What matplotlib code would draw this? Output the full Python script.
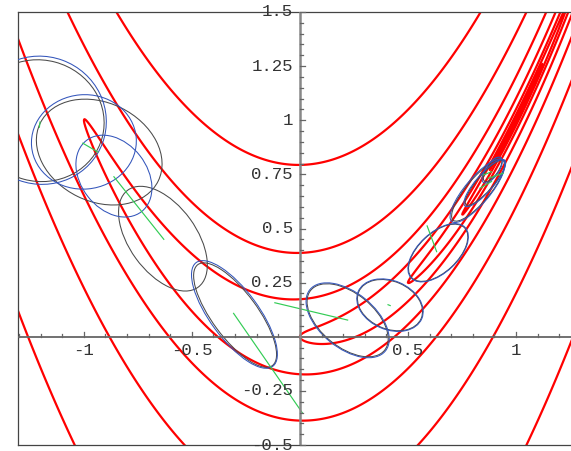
import numpy as np
import matplotlib
matplotlib.use("Agg")
import matplotlib.pyplot as plt
from matplotlib.patches import Ellipse

# contour levels of the Rosenbrock valley (powers of 4)
levels = [4.0 ** k for k in range(-5, 5)]

# ellipses: centre x, centre y, semi-axis a, semi-axis b, angle (deg)
blue_cx = [-1.200, -1.000, -0.861, -0.303, 0.221, 0.417, 0.640, 0.822, 0.856, 0.890]
blue_cy = [1.000, 0.900, 0.742, 0.103, 0.076, 0.146, 0.388, 0.674, 0.710, 0.770]
blue_a = [0.305, 0.243, 0.208, 0.298, 0.225, 0.160, 0.171, 0.185, 0.140, 0.070]
blue_b = [0.295, 0.218, 0.153, 0.112, 0.128, 0.113, 0.092, 0.058, 0.040, 0.030]
blue_ang = [-20, 5, -52, -53.5, -39, -23, 43, 50, 49, 55]

gray_cx = [-1.205, -0.929, -0.634, -0.300, 0.221, 0.417, 0.640, 0.825, 0.858, 0.892]
gray_cy = [0.998, 0.853, 0.453, 0.100, 0.076, 0.146, 0.388, 0.676, 0.712, 0.772]
gray_a = [0.300, 0.304, 0.277, 0.290, 0.220, 0.157, 0.168, 0.180, 0.135, 0.065]
gray_b = [0.280, 0.228, 0.155, 0.105, 0.124, 0.110, 0.090, 0.054, 0.037, 0.026]
gray_ang = [-15, -26, -54, -53.5, -39, -23, 43, 50, 49, 55]

# green step segments: (x0, y0) -> (x1, y1)
step_x0 = [-1.203, -1.005, -0.861, -0.307, -0.116, 0.408, 0.589, 0.833, 0.872, 0.849]
step_y0 = [0.992, 0.894, 0.739, 0.108, 0.157, 0.148, 0.512, 0.686, 0.732, 0.747]
step_x1 = [-1.206, -0.935, -0.630, 0.011, 0.221, 0.418, 0.633, 0.887, 0.941, 0.887]
step_y1 = [0.968, 0.853, 0.450, -0.351, 0.077, 0.144, 0.393, 0.717, 0.755, 0.762]

xtick_vals = [-1, -0.5, 0.5, 1]
xtick_labels = ["-1", "-0.5", "0.5", "1"]
ytick_vals = [-0.5, -0.25, 0.25, 0.5, 0.75, 1, 1.25, 1.5]
ytick_labels = ["-0.5", "-0.25", "0.25", "0.5", "0.75", "1", "1.25", "1.5"]

X0, X1, Y0, Y1 = -1.305, 1.255, -0.5, 1.5

fig = plt.figure(figsize=(5.71, 4.51), dpi=100)
ax = fig.add_axes([18 / 571, 6 / 451, 553 / 571, 433 / 451])
ax.set_xlim(X0, X1)
ax.set_ylim(Y0, Y1)
ax.set_xticks([])
ax.set_yticks([])
for side in ["top", "left", "bottom"]:
    ax.spines[side].set_color("#444444")
    ax.spines[side].set_linewidth(0.9)
ax.spines["right"].set_visible(False)

# Rosenbrock contours
gx = np.linspace(-1.35, 1.3, 700)
gy = np.linspace(-0.55, 1.55, 600)
GX, GY = np.meshgrid(gx, gy)
F = (1 - GX) ** 2 + 100 * (GY - GX ** 2) ** 2
ax.contour(GX, GY, F, levels=levels, colors="#ff0000", linewidths=1.6, zorder=2)

for cx, cy, a, b, ang in zip(gray_cx, gray_cy, gray_a, gray_b, gray_ang):
    ax.add_patch(Ellipse((cx, cy), 2 * a, 2 * b, angle=ang, fill=False,
                         edgecolor="#4a4a4a", lw=0.75, zorder=3))
for cx, cy, a, b, ang in zip(blue_cx, blue_cy, blue_a, blue_b, blue_ang):
    ax.add_patch(Ellipse((cx, cy), 2 * a, 2 * b, angle=ang, fill=False,
                         edgecolor="#3355bb", lw=0.75, zorder=3))
for xa, ya, xb, yb in zip(step_x0, step_y0, step_x1, step_y1):
    ax.plot([xa, xb], [ya, yb], color="#33cc55", lw=0.85, zorder=4)

# axes through the origin, Mathematica style
ax.axhline(0, color="#666666", lw=1.3, zorder=5)
ax.axvline(0, color="#888888", lw=1.8, zorder=5)
px = 1 / 216.0
for v in np.arange(-1.3, 1.26, 0.1):
    if abs(v) < 1e-9:
        continue
    major = any(abs(v - m) < 1e-9 for m in xtick_vals)
    ax.plot([v, v], [0, (5 if major else 3) * px], color="#666666", lw=0.9, zorder=5)
for v in np.arange(-0.5, 1.51, 0.05):
    if abs(v) < 1e-9:
        continue
    major = any(abs(v - m) < 1e-9 for m in ytick_vals)
    ax.plot([0, (5 if major else 3) * px], [v, v], color="#666666", lw=0.9, zorder=5,
            clip_on=False)

font = dict(family="Liberation Mono", size=12.5, color="#333333")
for v, lab in zip(xtick_vals, xtick_labels):
    ax.text(v, -6 * px, lab, ha="center", va="top", zorder=6, **font)
for v, lab in zip(ytick_vals, ytick_labels):
    ax.text(-7 * px, v, lab, ha="right", va="center", zorder=6, clip_on=False, **font)

fig.savefig("out.png", dpi=100)
